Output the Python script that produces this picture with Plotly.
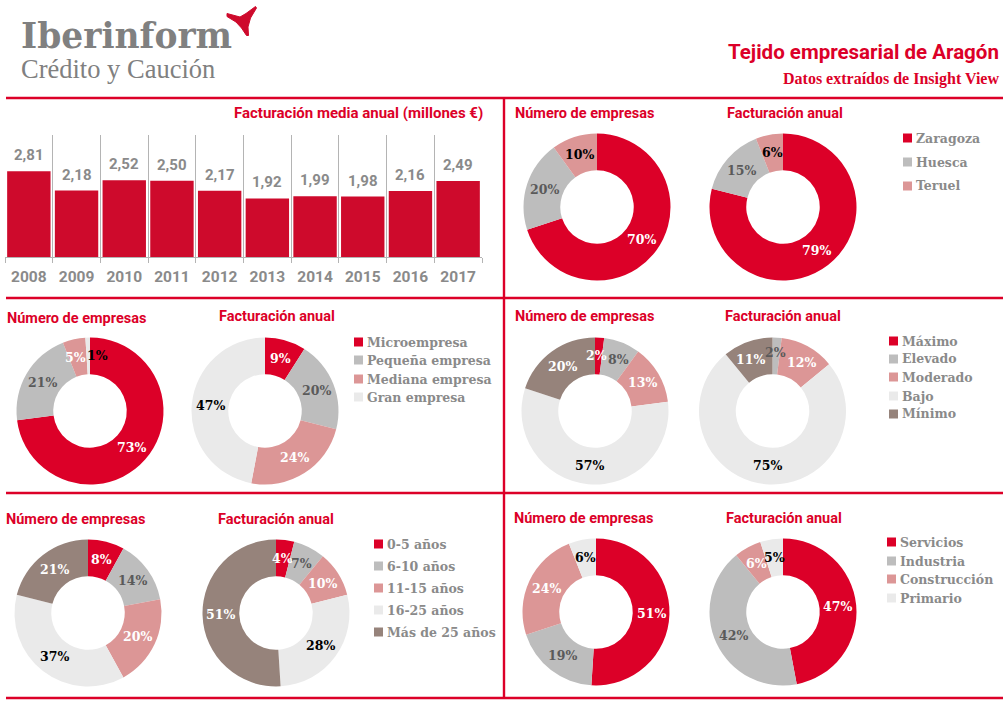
import math
import plotly.graph_objects as go

RED = "#DC0028"
BAR = "#CE0A2C"
GREY = "#BDBDBD"
PINK = "#DC9696"
LIGHT = "#EAEAEA"
BROWN = "#96837B"
TXT = "#8A8A8A"
HEAD = "Roboto"
SLAB = "DejaVu Serif"

years = ["2008", "2009", "2010", "2011", "2012", "2013", "2014", "2015", "2016", "2017"]
revenue = [2.81, 2.18, 2.52, 2.50, 2.17, 1.92, 1.99, 1.98, 2.16, 2.49]

prov_names = ["Zaragoza", "Huesca", "Teruel"]
prov_num = [70, 20, 10]
prov_rev = [79, 15, 6]

size_names = ["Microempresa", "Pequeña empresa", "Mediana empresa", "Gran empresa"]
size_num = [73, 21, 5, 1]
size_rev = [9, 20, 24, 47]

risk_names = ["Máximo", "Elevado", "Moderado", "Bajo", "Mínimo"]
risk_num = [2, 8, 13, 57, 20]
risk_rev = [0, 2, 12, 75, 11]

age_names = ["0-5 años", "6-10 años", "11-15 años", "16-25 años", "Más de 25 años"]
age_num = [8, 14, 20, 37, 21]
age_rev = [4, 7, 10, 28, 51]

sector_names = ["Servicios", "Industria", "Construcción", "Primario"]
sector_num = [51, 19, 24, 6]
sector_rev = [47, 42, 6, 5]

W, H = 1006, 704
R = 73.5


def px(x):
    return x / W


def py(y):
    return 1 - y / H


fig = go.Figure()
annotations = []
shapes = []

# bars
fig.add_trace(go.Bar(
    x=years, y=revenue, marker_color=BAR, marker_line_width=0,
    showlegend=False, hoverinfo="x+y",
))
for i, v in enumerate(revenue):
    annotations.append(dict(
        x=i, y=v, xref="x", yref="y", text=f"{v:.2f}".replace(".", ","), showarrow=False,
        xanchor="center", yanchor="bottom", yshift=7, borderpad=0, borderwidth=0,
        font=dict(family=HEAD, size=15, color=TXT, weight="bold"),
    ))
fig.update_layout(
    bargap=0.09,
    xaxis=dict(domain=[px(5), px(482)], anchor="y", type="category", tickson="boundaries",
               categoryorder="array", categoryarray=years, range=[-0.5, 9.5],
               showgrid=True, gridcolor="#B4B4B4", gridwidth=1, ticks="outside", ticklen=5,
               tickcolor="#B4B4B4", showline=True, linecolor="#B4B4B4", zeroline=False,
               ticklabelstandoff=5, tickangle=0, automargin=False,
               tickfont=dict(family=HEAD, size=15.5, color=TXT, weight="bold"), fixedrange=True),
    yaxis=dict(domain=[py(257), py(135)], range=[0, 4], visible=False, fixedrange=True),
)


def text(x, y, s, size, color, family=HEAD, bold=True, anchor="left"):
    annotations.append(dict(
        x=px(x), y=py(y), xref="paper", yref="paper", text=s, showarrow=False,
        xanchor=anchor, yanchor="middle", borderpad=0, borderwidth=0,
        font=dict(family=family, size=size, color=color, weight="bold" if bold else "normal"),
    ))


def donut(cx, cy, values, colors, labels, labcolors, nudges=None):
    fig.add_trace(go.Pie(
        values=values, labels=labels, sort=False, direction="clockwise", rotation=0,
        hole=0.5, marker=dict(colors=colors, line=dict(width=0)), textinfo="none",
        domain=dict(x=[px(cx - R), px(cx + R)], y=[py(cy + R), py(cy - R)]),
        showlegend=False, hoverinfo="label+percent",
    ))
    total = sum(values)
    acc = 0
    for i, v in enumerate(values):
        ang = 2 * math.pi * (acc + v / 2) / total
        acc += v
        if v < 1:
            continue
        r = R * 0.75
        dx, dy = (nudges or {}).get(i, (0, 0))
        text(cx + r * math.sin(ang) + dx, cy - r * math.cos(ang) + dy, f"{round(v)}%", 12.5,
             labcolors[i], SLAB, True, "center")


def legend(x, ys, names, colors):
    for y, n, c in zip(ys, names, colors):
        shapes.append(dict(type="rect", xref="paper", yref="paper", x0=px(x), x1=px(x + 9),
                           y0=py(y + 4.5), y1=py(y - 4.5), fillcolor=c, line_width=0))
        text(x + 13, y, n, 12.5, TXT, SLAB, True)


DK = "#5A5A5A"
K = "#000000"
Wt = "#FFFFFF"

c3 = [RED, GREY, PINK]
donut(597, 207, prov_num, c3, prov_names, [Wt, DK, K])
donut(783, 207, prov_rev, c3, prov_names, [Wt, DK, K])
legend(903, [138, 162, 186], prov_names, c3)

c4 = [RED, GREY, PINK, LIGHT]
donut(90, 411, size_num, c4, size_names, [Wt, DK, Wt, K], {2: (-2, 0), 3: (9, 0)})
donut(265, 411, size_rev, c4, size_names, [Wt, DK, Wt, K])
legend(354, [342, 360, 379, 397], size_names, c4)

c5 = [RED, GREY, PINK, LIGHT, BROWN]
donut(595, 411, risk_num, c5, risk_names, [Wt, DK, Wt, K, Wt], {0: (-2, 0), 1: (3, 0)})
donut(772.5, 411, risk_rev, c5, risk_names, [Wt, DK, Wt, K, Wt], {1: (0, -3), 4: (-3, 0), 2: (2, 0)})
legend(889, [341, 359, 377, 396, 414], risk_names, c5)

donut(88, 613, age_num, c5, age_names, [Wt, DK, Wt, K, Wt])
donut(276, 613, age_rev, c5, age_names, [Wt, DK, Wt, K, Wt])
legend(374, [544, 566, 588, 610, 632], age_names, c5)

donut(596, 612, sector_num, c4, sector_names, [Wt, DK, Wt, K])
donut(783, 612, sector_rev, c4, sector_names, [Wt, DK, Wt, K])
legend(887, [542, 561, 579, 598], sector_names, c4)

# panel headings
text(483, 113, "Facturación media anual (millones €)", 15, RED, anchor="right")
for x, y in [(515, 113), (7, 318), (515, 317), (6, 519), (514, 518)]:
    text(x, y, "Número de empresas", 14.5, RED)
for x, y in [(727, 113), (219, 317), (725, 317), (218, 519), (726, 518)]:
    text(x, y, "Facturación anual", 14.5, RED)

# title block
text(999, 52, "Tejido empresarial de Aragón", 20.5, RED, anchor="right")
text(999, 79, "Datos extraídos de Insight View", 16, RED, "Liberation Serif", True, "right")

# logo
text(21, 36, "Iberinform", 34.5, "#808080", "DejaVu Serif", True)
text(21, 69, "Crédito y Caución", 26.5, "#808080", "Liberation Serif", False)

# frame lines
for y in [98, 298, 493, 698]:
    shapes.append(dict(type="line", xref="paper", yref="paper", x0=px(6), x1=px(1003),
                       y0=py(y), y1=py(y), line=dict(color=RED, width=2.4)))
shapes.append(dict(type="line", xref="paper", yref="paper", x0=px(504), x1=px(504),
                   y0=py(98), y1=py(698), line=dict(color=RED, width=2.4)))

# logo mark
pts = [(227, 13.5), (240, 17), (246, 13.5), (255.5, 6.5), (256.5, 8), (250.5, 18), (248, 27),
       (248.5, 35.5), (246.5, 35.5), (241.5, 28), (236, 22), (227, 16.5)]
path = "M " + " L ".join(f"{px(a):.5f},{py(b):.5f}" for a, b in pts) + " Z"
shapes.append(dict(type="path", xref="paper", yref="paper", path=path, fillcolor=BAR,
                   line=dict(color=BAR, width=1)))

fig.update_layout(
    width=W, height=H, margin=dict(l=0, r=0, t=0, b=0),
    paper_bgcolor="white", plot_bgcolor="white", showlegend=False,
    annotations=annotations, shapes=shapes,
)

fig.write_html("out.html", config={"displayModeBar": False},
               post_script="document.body.style.margin='0';")
